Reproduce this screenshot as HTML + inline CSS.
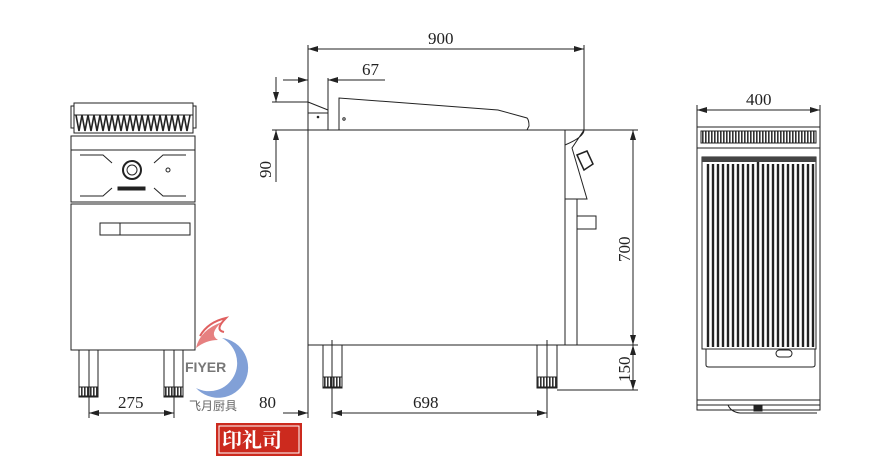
<!DOCTYPE html>
<html><head><meta charset="utf-8"><style>
html,body{margin:0;padding:0;background:#fff;}
svg{display:block;}
text{font-family:"Liberation Serif",serif;font-size:17px;fill:#222;}
</style></head><body>
<svg width="884" height="464" viewBox="0 0 884 464" xmlns="http://www.w3.org/2000/svg">
<defs>
<marker id="a" viewBox="0 0 10 6" refX="10" refY="3" markerWidth="10" markerHeight="6" orient="auto-start-reverse" markerUnits="userSpaceOnUse"><path d="M0,0L10,3L0,6z" fill="#222"/></marker>
<pattern id="h" width="3" height="10" patternUnits="userSpaceOnUse"><rect width="3" height="10" fill="#fff"/><rect width="1.6" height="10" fill="#333"/></pattern>
</defs>
<g stroke="#222" fill="none" stroke-width="1">
<!-- FRONT VIEW -->
<rect x="74" y="103" width="119" height="30"/>
<rect x="71" y="106" width="3" height="22"/><rect x="193" y="106" width="3" height="22"/>
<path d="M76,115 l3,16 l3,-16 l3,16 l3,-16 l3,16 l3,-16 l3,16 l3,-16 l3,16 l3,-16 l3,16 l3,-16 l3,16 l3,-16 l3,16 l3,-16 l3,16 l3,-16 l3,16 l3,-16 l3,16 l3,-16 l3,16 l3,-16 l3,16 l3,-16 l3,16 l3,-16 l3,16 l3,-16 l3,16 l3,-16 l3,16 l3,-16 l3,16 l3,-16 l3,16 l3,-16" stroke-width="1.6"/>
<line x1="74" y1="115" x2="193" y2="115"/>
<rect x="71" y="136" width="124" height="14"/>
<rect x="71" y="150" width="124" height="52"/>
<path d="M80,155 H103 L112,163 M80,196 H103 L112,188 M186,155 H163 L154,163 M186,196 H163 L154,188"/>
<circle cx="132" cy="170" r="9" stroke-width="2"/>
<circle cx="132" cy="170" r="5"/>
<circle cx="168" cy="170" r="2"/>
<rect x="118" y="187" width="27" height="3" fill="#222"/>
<rect x="71" y="204" width="124" height="146"/>
<rect x="100" y="223" width="90" height="12"/><line x1="120" y1="223" x2="120" y2="235"/>
<rect x="79" y="350" width="19" height="47"/><rect x="164" y="350" width="19" height="47"/>
<rect x="79" y="387" width="19" height="9" fill="url(#h)"/><rect x="164" y="387" width="19" height="9" fill="url(#h)"/>
<line x1="89" y1="350" x2="89" y2="418"/><line x1="174" y1="350" x2="174" y2="418"/>
<line x1="89" y1="413" x2="174" y2="413" marker-start="url(#a)" marker-end="url(#a)"/>

<!-- SIDE VIEW -->
<line x1="308" y1="45" x2="308" y2="418"/><line x1="584" y1="45" x2="584" y2="130"/>
<line x1="308" y1="49" x2="584" y2="49" marker-start="url(#a)" marker-end="url(#a)"/>
<line x1="283" y1="80" x2="308" y2="80" marker-end="url(#a)"/>
<line x1="385" y1="80" x2="328" y2="80" marker-end="url(#a)"/>
<line x1="328" y1="78" x2="328" y2="130"/>
<line x1="276" y1="77" x2="276" y2="102" marker-end="url(#a)"/>
<line x1="276" y1="182" x2="276" y2="130" marker-end="url(#a)"/>
<line x1="272" y1="102" x2="308" y2="102"/>
<line x1="272" y1="130" x2="638" y2="130"/>
<path d="M308,102 L328,110 V130 M308,113 H328"/>
<circle cx="318" cy="117" r="0.8" fill="#222"/>
<path d="M339,130 V98 L498,110 L527,118 Q529,120 529,126 L527,130 H339"/>
<circle cx="344" cy="119" r="1.2"/>
<rect x="308" y="130" width="257" height="215"/>
<path d="M584,130 Q584,137 565,145 V199 H587 L572,148 Z"/>
<path d="M577,155 L587,151 L593,164 L584,170 Z" stroke-width="1.5"/>
<rect x="565" y="199" width="12" height="146"/>
<rect x="577" y="216" width="19" height="13"/>
<line x1="565" y1="345" x2="638" y2="345"/>
<line x1="633" y1="130" x2="633" y2="345" marker-start="url(#a)" marker-end="url(#a)"/>
<line x1="633" y1="345" x2="633" y2="390" marker-start="url(#a)" marker-end="url(#a)"/>
<line x1="557" y1="390" x2="638" y2="390"/>
<rect x="323" y="345" width="19" height="43"/><rect x="537" y="345" width="20" height="43"/>
<rect x="323" y="377" width="19" height="10" fill="url(#h)"/><rect x="537" y="377" width="20" height="10" fill="url(#h)"/>
<line x1="332" y1="340" x2="332" y2="418"/><line x1="547" y1="340" x2="547" y2="418"/>
<line x1="283" y1="413" x2="308" y2="413" marker-end="url(#a)"/>
<line x1="332" y1="413" x2="547" y2="413" marker-start="url(#a)" marker-end="url(#a)"/>

<!-- TOP VIEW -->
<line x1="697" y1="105" x2="697" y2="127"/><line x1="820" y1="105" x2="820" y2="127"/>
<line x1="697" y1="110" x2="820" y2="110" marker-start="url(#a)" marker-end="url(#a)"/>
<rect x="697" y="127" width="123" height="283"/>
<rect x="701" y="131" width="115" height="12" fill="url(#h)"/>
<line x1="697" y1="148" x2="820" y2="148"/>
<rect x="702" y="157" width="114" height="192"/>
<path d="M706,349 V365 Q706,367 709,367 H812 Q815,367 815,365 V349"/>
<rect x="776" y="350" width="16" height="7" rx="3.5"/>
<line x1="697" y1="400" x2="820" y2="400"/>
<line x1="697" y1="405" x2="820" y2="405"/>
<path d="M728,405 Q731,412 740,413 H817"/>
<rect x="754" y="405" width="8" height="6" fill="#222"/>
</g>
<g stroke="#222" stroke-width="2.4">
<line x1="708" y1="164" x2="708" y2="347"/><line x1="713" y1="164" x2="713" y2="347"/><line x1="718" y1="164" x2="718" y2="347"/><line x1="723" y1="164" x2="723" y2="347"/><line x1="728" y1="164" x2="728" y2="347"/><line x1="733" y1="164" x2="733" y2="347"/><line x1="738" y1="164" x2="738" y2="347"/><line x1="743" y1="164" x2="743" y2="347"/><line x1="748" y1="164" x2="748" y2="347"/><line x1="753" y1="164" x2="753" y2="347"/><line x1="758" y1="160" x2="758" y2="347"/><line x1="763" y1="164" x2="763" y2="347"/><line x1="768" y1="164" x2="768" y2="347"/><line x1="773" y1="164" x2="773" y2="347"/><line x1="778" y1="164" x2="778" y2="347"/><line x1="783" y1="164" x2="783" y2="347"/><line x1="788" y1="164" x2="788" y2="347"/><line x1="793" y1="164" x2="793" y2="347"/><line x1="798" y1="164" x2="798" y2="347"/><line x1="803" y1="164" x2="803" y2="347"/><line x1="808" y1="164" x2="808" y2="347"/><line x1="813" y1="164" x2="813" y2="347"/>
</g>
<rect x="702" y="157" width="114" height="5" fill="#444"/>

<!-- text -->
<text x="428" y="44">900</text>
<text x="362" y="75">67</text>
<text x="746" y="105">400</text>
<text x="118" y="408">275</text>
<text x="259" y="408">80</text>
<text x="413" y="408">698</text>
<text transform="translate(271,178) rotate(-90)">90</text>
<text transform="translate(630,262) rotate(-90)">700</text>
<text transform="translate(630,382) rotate(-90)">150</text>

<!-- logo -->
<path d="M196,348 Q200,330 222,322 Q208,334 218,340 Q206,340 196,348Z" fill="#e06060" opacity="0.8"/>
<path d="M200,336 Q208,322 226,318 Q214,330 224,332" fill="none" stroke="#e06060" stroke-width="2"/>
<path d="M222,338 A30,30 0 1 1 196,388 A26,26 0 0 0 222,338Z" fill="#6b8fd0" opacity="0.85"/>
<text x="185" y="372" style="font-family:'Liberation Sans',sans-serif;font-weight:bold;font-size:14px;fill:#777">FIYER</text>
<text x="189" y="410" style="font-family:'Liberation Sans','Noto Sans CJK SC',sans-serif;font-size:12px;fill:#666">飞月厨具</text>
<rect x="216" y="423" width="86" height="33" fill="#cc2a1e"/>
<rect x="219" y="426" width="80" height="27" fill="none" stroke="#fff" stroke-width="1"/>
<text x="222" y="447" style="font-family:'Noto Serif CJK SC',serif;font-weight:bold;font-size:20px;fill:#fff">印礼司</text>
</svg>
</body></html>
